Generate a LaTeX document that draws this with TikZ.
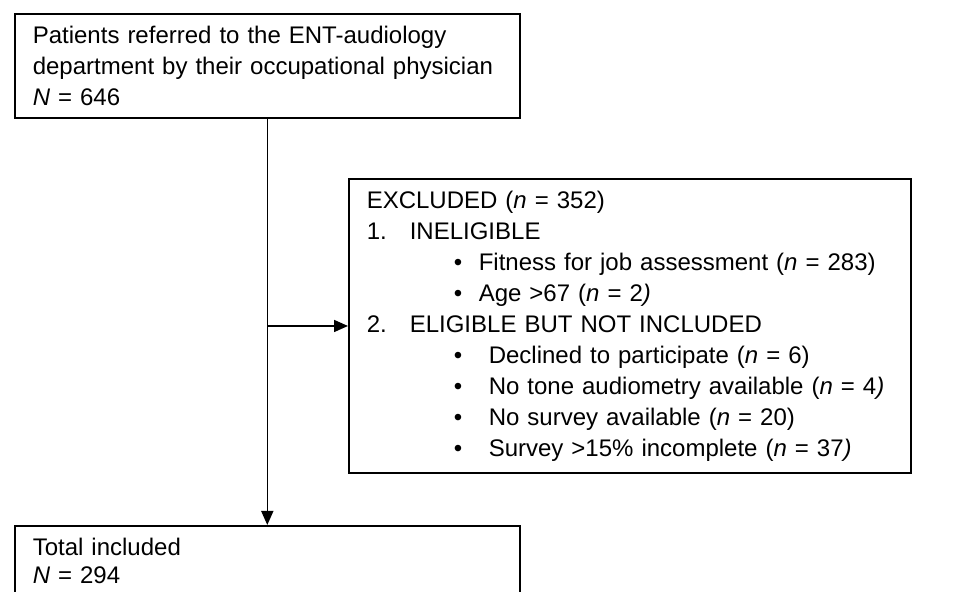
\documentclass[tikz,border=0pt]{standalone}
\usepackage{fontspec}
\setmainfont{Liberation Sans}
\usetikzlibrary{positioning,arrows.meta}

\newcommand{\nn}{\textit{n}}
\newcommand{\numline}[2]{\makebox[21.5pt][l]{#1}#2}
\newcommand{\bulA}[1]{\hspace*{43.5pt}\makebox[12.5pt][l]{\textbullet}#1}
\newcommand{\bulB}[1]{\hspace*{43.5pt}\makebox[17.5pt][l]{\textbullet}#1}

\begin{document}
\begin{tikzpicture}[x=0.5pt, y=-0.5pt,
    every node/.style = {font=\fontsize{12}{15.5}\selectfont, text=black},
    box/.style = {draw, line width=0.8pt, shape=rectangle, align=left,
      anchor=north west, inner xsep=9pt},
    arr/.style = {draw, line width=0.8pt, -{Triangle[length=7pt, width=6pt]}}]
  \useasboundingbox (0,0) rectangle (970,592);

  \node (top) [box, text width=234.5pt, minimum height=52pt] at (14,13)
    {Patients referred to the ENT-audiology\\
     department by their occupational physician\\
     \textit{N} = 646};
  \node (excl) [box, text width=263pt, inner ysep=6pt] at (348,178)
    {EXCLUDED (\nn{} = 352)\\
     \numline{1.}{INELIGIBLE}\\
     \bulA{Fitness for job assessment (\nn{} = 283)}\\
     \bulA{Age >67 (\nn{} = 2\textit{)}}\\
     \numline{2.}{ELIGIBLE BUT NOT INCLUDED}\\
     \bulB{Declined to participate (\nn{} = 6)}\\
     \bulB{No tone audiometry available (\nn{} = 4\textit{)}}\\
     \bulB{No survey available (\nn{} = 20)}\\
     \bulB{Survey >15\% incomplete (\nn{} = 37\textit{)}}};
  \node (incl) [box, text width=234.5pt, inner ysep=6pt, text depth=14pt,
      font=\fontsize{12}{14}\selectfont] at (14,525)
    {Total included\\
     \textit{N} = 294};

  \draw[arr] (top.south) -- (incl.north);
  \draw[arr] (top.south |- excl.west) -- (excl.west);
\end{tikzpicture}
\end{document}
